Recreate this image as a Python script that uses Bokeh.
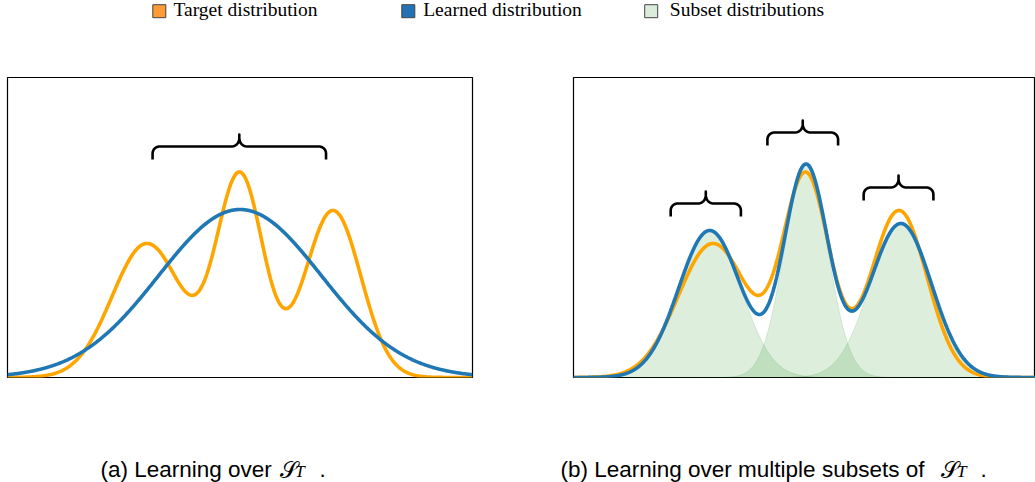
import numpy as np
from bokeh.plotting import figure
from bokeh.layouts import column, row
from bokeh.models import Range1d
from bokeh.core.properties import value
from bokeh.embed import file_html
from bokeh.resources import INLINE

# ---------------- data ----------------
# x: 0..10 across the panel width, heights in frame units (frame = 0..300)
target_means = [3.0, 5.0, 7.0]
target_sds = [0.75, 0.50, 0.60]
target_peaks = [134, 201, 167]

learned_a_means = [5.0]
learned_a_sds = [1.75]
learned_a_peaks = [168]

learned_b_means = [2.93, 5.0, 7.04]
learned_b_sds = [0.67, 0.47, 0.66]
learned_b_peaks = [147, 211, 154]

brace_a_left = [3.12]
brace_a_right = [6.85]
brace_a_level = [231]

brace_b_left = [2.09, 4.17, 6.24]
brace_b_right = [3.60, 5.69, 7.74]
brace_b_level = [174, 245, 190]

legend_labels = ["Target distribution", "Learned distribution", "Subset distributions"]
caption_texts = ["(a) Learning over ", "(b)  Learning over multiple subsets of "]

# ---------------- styles ----------------
ORANGE = "#ffa500"
BLUE = "#1f77b4"
GREEN = "#008000"
LEG_FILL = ["#ff9a35", "#2272b5", "#dcecdc"]
SANS = value("Liberation Sans")
SERIF = value("Liberation Serif")

PX_PER_X = 46.5
Y_TOP = 300


def gauss(x, m, s, a):
    return a * np.exp(-((x - m) ** 2) / (2.0 * s * s))


def mixture(x, means, sds, peaks):
    return sum(gauss(x, m, s, a) for m, s, a in zip(means, sds, peaks))


def brace_xy(x0, x1, level, ppx, drop=13.0, rise=12.0, r1=7.0, r2=8.0):
    w = (x1 - x0) * ppx
    pts = [(0.0, -drop), (0.0, -r1)]
    t = np.radians(np.linspace(180, 90, 14))
    pts += list(zip(r1 + r1 * np.cos(t), -r1 + r1 * np.sin(t)))
    t = np.radians(np.linspace(-90, 0, 14))
    pts += list(zip(w / 2 - r2 + r2 * np.cos(t), r2 + r2 * np.sin(t)))
    pts += [(w / 2, rise)]
    right = [(w - px, py) for px, py in reversed(pts)]
    allp = pts + right
    xs = [x0 + px / ppx for px, _ in allp]
    ys = [level + py for _, py in allp]
    return xs, ys


def panel(width, frame_w, left_border):
    p = figure(width=width, height=302, output_backend="svg", toolbar_location=None,
               x_axis_type=None, y_axis_type=None,
               x_range=Range1d(0, frame_w / PX_PER_X), y_range=Range1d(0, Y_TOP),
               min_border_left=left_border, min_border_right=width - left_border - frame_w,
               min_border_top=1, min_border_bottom=1)
    p.outline_line_color = "black"
    p.outline_line_width = 1.2
    p.background_fill_color = "white"
    p.border_fill_color = "white"
    return p


# ---------------- panel (a) ----------------
fa = panel(572, 465, 7)
xa = np.linspace(0, 10, 801)
fa.line(xa, mixture(xa, target_means, target_sds, target_peaks), line_color=ORANGE, line_width=3.6)
fa.line(xa, mixture(xa, learned_a_means, learned_a_sds, learned_a_peaks), line_color=BLUE, line_width=3.6)
for l, r, lv in zip(brace_a_left, brace_a_right, brace_a_level):
    bx, by = brace_xy(l, r, lv, PX_PER_X)
    fa.line(bx, by, line_color="black", line_width=2.6, line_join="round")

# ---------------- panel (b) ----------------
fb = panel(463, 462, 1)
xb = np.linspace(0, 462 / PX_PER_X, 801)
for m, s, a in zip(learned_b_means, learned_b_sds, learned_b_peaks):
    comp = gauss(xb, m, s, a)
    fb.varea(x=xb, y1=np.zeros_like(xb), y2=comp, fill_color=GREEN, fill_alpha=0.135)
    fb.line(xb, comp, line_color=GREEN, line_alpha=0.12, line_width=1)
fb.line(xb, mixture(xb, target_means, target_sds, target_peaks), line_color=ORANGE, line_width=3.6)
fb.line(xb, mixture(xb, learned_b_means, learned_b_sds, learned_b_peaks), line_color=BLUE, line_width=3.6)
for l, r, lv in zip(brace_b_left, brace_b_right, brace_b_level):
    bx, by = brace_xy(l, r, lv, PX_PER_X)
    fb.line(bx, by, line_color="black", line_width=2.6, line_join="round")


def overlay(height):
    p = figure(width=1035, height=height, output_backend="svg", toolbar_location=None,
               x_axis_type=None, y_axis_type=None,
               x_range=Range1d(0, 1035), y_range=Range1d(height, 0), min_border=0)
    p.outline_line_color = None
    p.background_fill_color = "white"
    p.border_fill_color = "white"
    return p


# ---------------- legend ----------------
fl = overlay(76)
leg_sq_x = [158.8, 407.8, 650.7]
leg_txt_x = [173, 422.7, 669.3]
fl.rect(x=leg_sq_x, y=[10.7] * 3, width=13, height=13, fill_color=LEG_FILL,
        line_color="#444444", line_width=1)
fl.text(x=leg_txt_x, y=[8.5] * 3, text=legend_labels, text_font=SERIF, text_font_size="19.5px",
        text_baseline="alphabetic", text_align="left", text_color="black")

# ---------------- captions ----------------
fc = overlay(104)
BASE = 91
fc.text(x=[100, 560], y=[BASE, BASE], text=caption_texts, text_font=SANS, text_font_size="22.5px",
        text_baseline="alphabetic", text_align="left", text_color="black")
fc.text(x=[279.3, 940.7], y=[BASE, BASE], text=["\U0001D4AE", "\U0001D4AE"], text_font=value("DejaVu Sans"),
        text_font_size="23px", text_baseline="alphabetic", text_align="left", text_color="black")
fc.text(x=[294.5, 956.2], y=[BASE + 1.8, BASE + 1.8], text=["T", "T"], text_font=SERIF, text_font_style="italic",
        text_font_size="17.5px", text_baseline="alphabetic", text_align="left", text_color="black")
fc.text(x=[319, 980], y=[BASE, BASE], text=[".", "."], text_font=SANS, text_font_size="22.5px",
        text_baseline="alphabetic", text_align="left", text_color="black")

layout = column(fl, row(fa, fb), fc)
open("out.html", "w").write(file_html(layout, INLINE))
